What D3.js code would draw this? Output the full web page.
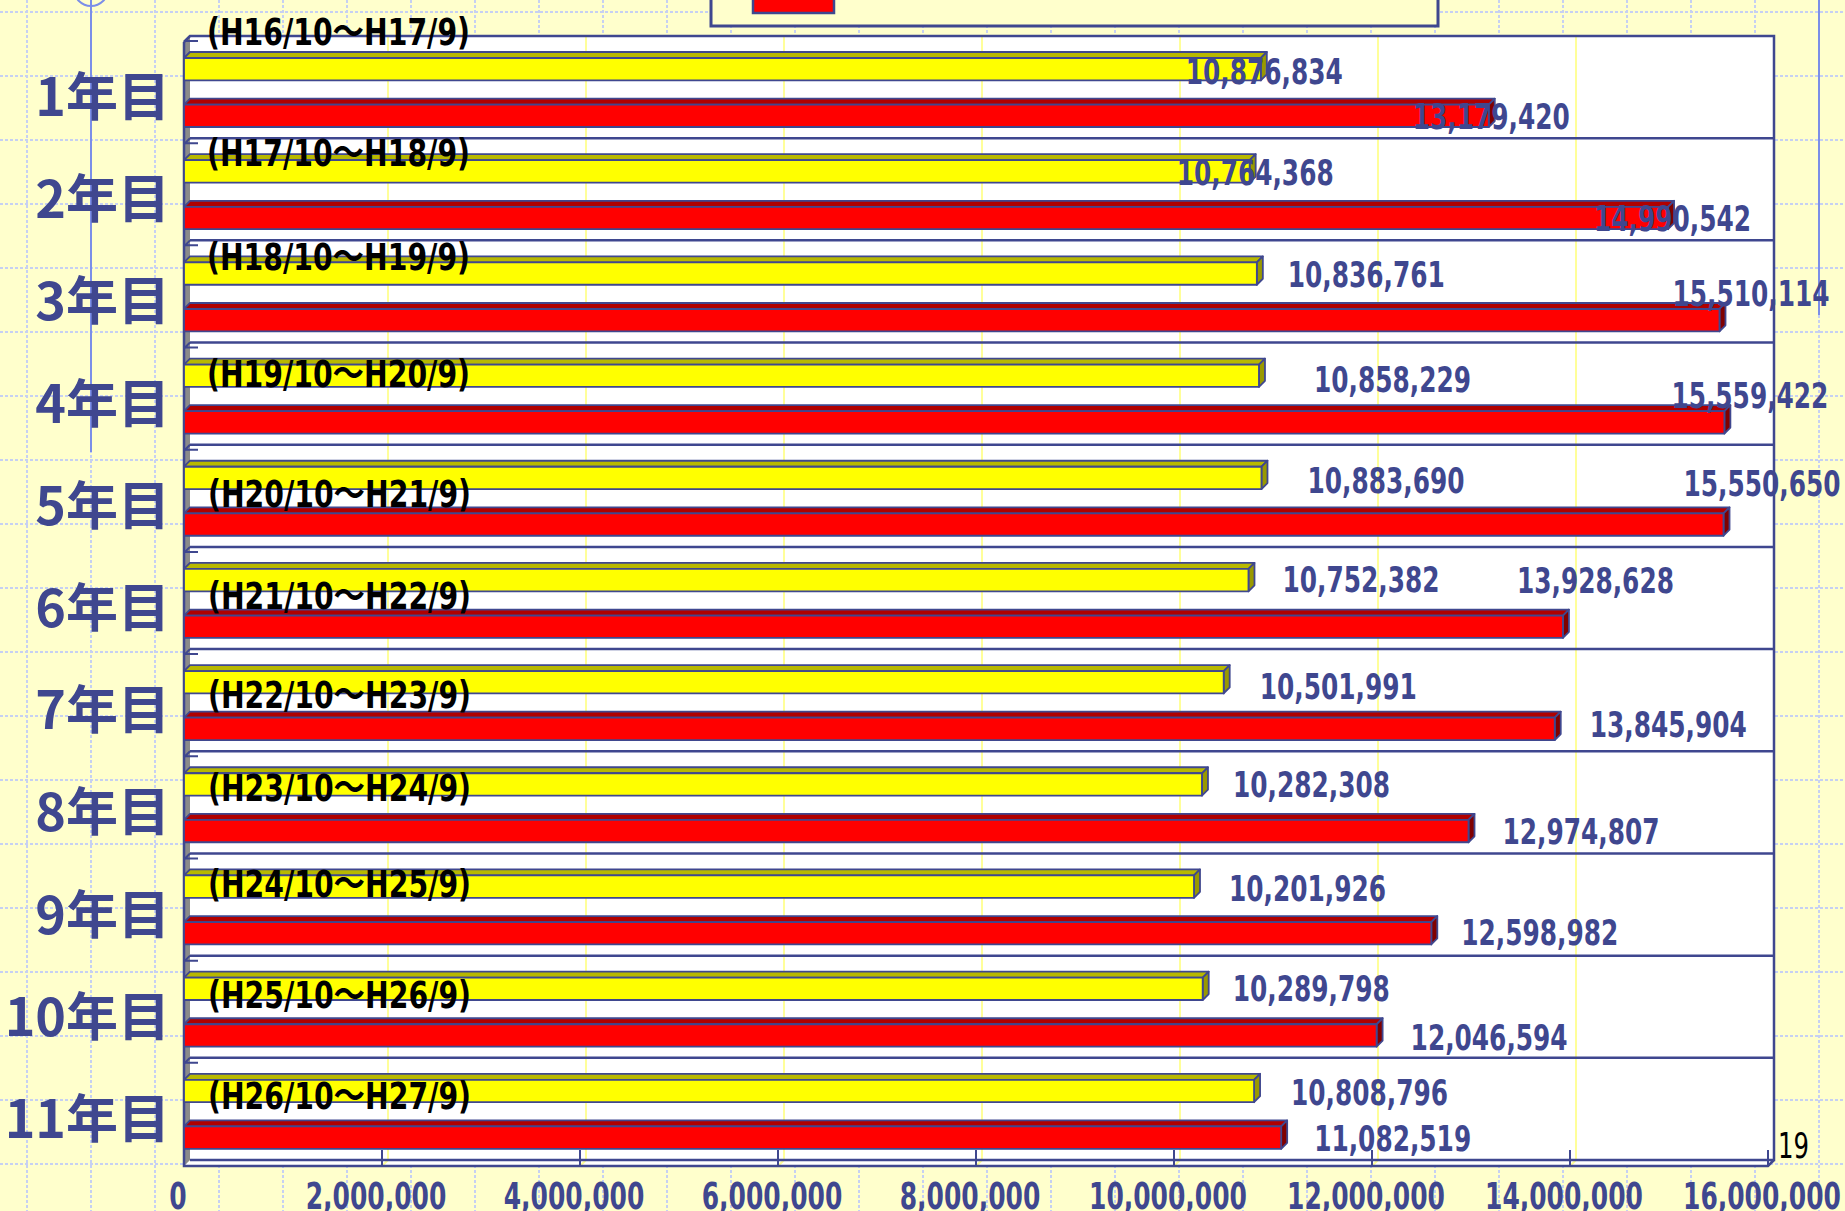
<!DOCTYPE html>
<html>
<head>
<meta charset="utf-8">
<script src="https://cdn.jsdelivr.net/npm/d3@7"></script>
<style>
  html, body { margin: 0; padding: 0; background: #ffffcc; }
  svg { display: block; }
</style>
</head>
<body>
<svg id="chart" width="1845" height="1211"></svg>
<script>
// ---------------- DATA ----------------
const categories = ["1年目","2年目","3年目","4年目","5年目","6年目","7年目","8年目","9年目","10年目","11年目"];
const periods = ["(H16/10～H17/9)","(H17/10～H18/9)","(H18/10～H19/9)","(H19/10～H20/9)","(H20/10～H21/9)",
                 "(H21/10～H22/9)","(H22/10～H23/9)","(H23/10～H24/9)","(H24/10～H25/9)","(H25/10～H26/9)","(H26/10～H27/9)"];
const seriesNames = ["yellowSeries", "redSeries"];
const yellowValues = [10876834, 10764368, 10836761, 10858229, 10883690, 10752382, 10501991, 10282308, 10201926, 10289798, 10808796];
const redValues    = [13179420, 14990542, 15510114, 15559422, 15550650, 13928628, 13845904, 12974807, 12598982, 12046594, 11082519];
const xTicks = [0, 2000000, 4000000, 6000000, 8000000, 10000000, 12000000, 14000000, 16000000];
const pageNumber = "19";

// ---------------- LAYOUT (label placement offsets, px) ----------------
const yellowLabelDx = [-75, -73, 31, 55, 46, 34, 36, 31, 35, 30, 37];
const yellowLabelDy = [2, 1, 0, 3, 2, -1, 4, 0, 1, -1, 1];
const redLabelDx = [-76, -74, -47, -53, -40, -46, 35, 34, 30, 34, 33];
const redLabelDy = [0, 0, -27, -27, -42, -47, -5, 0, -1, 2, 0];
const periodLabelDy = [-4, 15, 17, 31, 49, 49, 46, 37, 31, 39, 38];
const periodLabelX = [207, 207, 207, 207, 208, 208, 208, 208, 208, 208, 208];

// ---------------- SETUP ----------------
const W = 1845, H = 1211;
const svg = d3.select("#chart");
const blue = "#3f478f";
const DX = 6, DY = 6;              // 3D depth
const plotTop = 36, plotBottom = 1160;

const x = d3.scaleLinear().domain([0, 16000000]).range([184, 1768]);
const y = d3.scaleBand().domain(categories).range([plotTop, plotBottom]);
const ySub = d3.scaleBand().domain(seriesNames).range([22, 91]).paddingInner(0.52);

const rows = categories.map((c, i) => ({
  cat: c, period: periods[i], i,
  vals: [
    {s: "yellowSeries", v: yellowValues[i], front: "#ffff00", top: "#b8b800", side: "#999900", dx: yellowLabelDx[i], dy: yellowLabelDy[i]},
    {s: "redSeries",    v: redValues[i],    front: "#ff0000", top: "#b00000", side: "#800000", dx: redLabelDx[i], dy: redLabelDy[i]}
  ]
}));

// background
svg.append("rect").attr("width", W).attr("height", H).attr("fill", "#ffffcc");
const bg = svg.append("g").attr("stroke", "#c6d0f2").attr("stroke-width", 2).attr("stroke-dasharray", "3,2");
d3.range(12, H, 64).forEach(yy => bg.append("line").attr("x1", 0).attr("x2", W).attr("y1", yy).attr("y2", yy));
d3.range(27, W, 64).forEach(xx => bg.append("line").attr("y1", 0).attr("y2", H).attr("x1", xx).attr("x2", xx));

// decorative slide lines
svg.append("line").attr("x1", 91).attr("x2", 91).attr("y1", 0).attr("y2", 452).attr("stroke", "#7b8ee8").attr("stroke-width", 2);
svg.append("circle").attr("cx", 91).attr("cy", -11).attr("r", 17).attr("fill", "none").attr("stroke", "#7b8ee8").attr("stroke-width", 2);
svg.append("line").attr("x1", 1819).attr("x2", 1819).attr("y1", 0).attr("y2", 315).attr("stroke", "#7b8ee8").attr("stroke-width", 2);

// legend box (mostly cut off)
svg.append("rect").attr("x", 711).attr("y", -20).attr("width", 727).attr("height", 46)
  .attr("fill", "#ffffcc").attr("stroke", blue).attr("stroke-width", 3);
svg.append("rect").attr("x", 753).attr("y", -20).attr("width", 81).attr("height", 33)
  .attr("fill", "#ff0000").attr("stroke", blue).attr("stroke-width", 2.5);

// ---------------- PLOT FRAME ----------------
const xb = v => x(v) + DX;  // back wall x
const plot = svg.append("g");
plot.append("rect").attr("x", xb(0)).attr("y", plotTop).attr("width", xb(16000000) - xb(0)).attr("height", plotBottom - plotTop).attr("fill", "#ffffff");
plot.append("polygon").attr("points", [[x(0), plotBottom + DY], [xb(0), plotBottom], [xb(16000000), plotBottom], [x(16000000), plotBottom + DY]].join(" ")).attr("fill", "#ffffff");
plot.append("polygon").attr("points", [[x(0), plotTop + DY], [xb(0), plotTop], [xb(0), plotBottom], [x(0), plotBottom + DY]].join(" ")).attr("fill", "#8a8a8a");

xTicks.slice(1, -1).forEach(t => {
  plot.append("path").attr("d", `M${xb(t)},${plotTop}V${plotBottom}L${x(t)},${plotBottom + DY}`)
    .attr("fill", "none").attr("stroke", "#ffff99").attr("stroke-width", 2);
});

categories.forEach((c, i) => {
  const yy = y(c);
  if (i > 0) {
    plot.append("line").attr("x1", xb(0)).attr("x2", xb(16000000)).attr("y1", yy).attr("y2", yy)
      .attr("stroke", blue).attr("stroke-width", 2.5);
  }
  plot.append("path").attr("d", `M${x(0)},${yy + DY}L${xb(0)},${yy}M${x(0)},${yy + 5}H${x(0) + 14}`)
    .attr("fill", "none").attr("stroke", blue).attr("stroke-width", 2);
});

plot.append("path")
  .attr("d", `M${x(0)},${plotTop + DY}L${xb(0)},${plotTop}H${xb(16000000)}V${plotBottom}H${xb(0)}`
    + `M${x(0)},${plotTop + DY}V${plotBottom + DY}H${x(16000000)}L${xb(16000000)},${plotBottom}`)
  .attr("fill", "none").attr("stroke", blue).attr("stroke-width", 2.5);

xTicks.slice(1).forEach(t => {
  plot.append("line").attr("x1", x(t)).attr("x2", x(t)).attr("y1", plotBottom - 10).attr("y2", plotBottom + DY)
    .attr("stroke", blue).attr("stroke-width", 2);
});

// ---------------- BARS ----------------
const bars = svg.append("g").attr("stroke", blue).attr("stroke-width", 1.8).attr("stroke-linejoin", "round");
rows.forEach(r => {
  r.vals.forEach(d => {
    const yt = y(r.cat) + ySub(d.s), yb2 = yt + ySub.bandwidth();
    const x0 = x(0), xe = x(d.v);
    bars.append("polygon").attr("points", [[x0, yt], [x0 + DX, yt - DY], [xe + DX, yt - DY], [xe, yt]].join(" ")).attr("fill", d.top);
    bars.append("polygon").attr("points", [[xe, yt], [xe + DX, yt - DY], [xe + DX, yb2 - DY], [xe, yb2]].join(" ")).attr("fill", d.side);
    bars.append("rect").attr("x", x0).attr("y", yt).attr("width", xe - x0).attr("height", yb2 - yt).attr("fill", d.front);
  });
});

// ---------------- TEXT ----------------
const narrow = "'Liberation Sans Narrow','DejaVu Sans Condensed','Noto Sans CJK JP',sans-serif";
const fmt = d3.format(",");
const numWidth = s => s.split("").reduce((a, ch) => a + (ch === "," ? 9.4 : 17.4), 0);

// category labels
svg.append("g").selectAll("text").data(rows).join("text")
  .attr("x", 170).attr("y", d => y(d.cat) + y.bandwidth() / 2 + 10 + 19)
  .attr("text-anchor", "end")
  .attr("font-family", "'Noto Sans CJK JP',sans-serif").attr("font-weight", "bold")
  .attr("font-size", 52).attr("fill", blue)
  .text(d => d.cat);

// period labels
svg.append("g").selectAll("text").data(rows).join("text")
  .attr("x", d => periodLabelX[d.i]).attr("y", d => y(d.cat) + periodLabelDy[d.i] + 13)
  .attr("font-family", narrow).attr("font-weight", "bold")
  .attr("font-size", 37).attr("fill", "#000")
  .attr("textLength", 263).attr("lengthAdjust", "spacingAndGlyphs")
  .text(d => d.period);

// value labels
const vl = svg.append("g");
rows.forEach(r => {
  r.vals.forEach(d => {
    const cy = y(r.cat) + ySub(d.s) + ySub.bandwidth() / 2 + d.dy;
    vl.append("text")
      .attr("x", x(d.v) + d.dx).attr("y", cy + 13)
      .attr("font-family", narrow).attr("font-weight", "bold")
      .attr("font-size", 36).attr("fill", blue)
      .attr("textLength", 157).attr("lengthAdjust", "spacingAndGlyphs")
      .text(fmt(d.v));
  });
});

// x-axis labels
svg.append("g").selectAll("text").data(xTicks).join("text")
  .attr("x", d => x(d) - 6).attr("y", 1209)
  .attr("text-anchor", "middle")
  .attr("font-family", narrow).attr("font-weight", "bold")
  .attr("font-size", 37).attr("fill", blue)
  .attr("textLength", d => numWidth(fmt(d))).attr("lengthAdjust", "spacingAndGlyphs")
  .text(d => fmt(d));

// page number
svg.append("text").attr("x", 1778).attr("y", 1158)
  .attr("font-family", narrow).attr("font-size", 36).attr("fill", "#000")
  .attr("textLength", 31).attr("lengthAdjust", "spacingAndGlyphs")
  .text(pageNumber);
</script>
</body>
</html>
